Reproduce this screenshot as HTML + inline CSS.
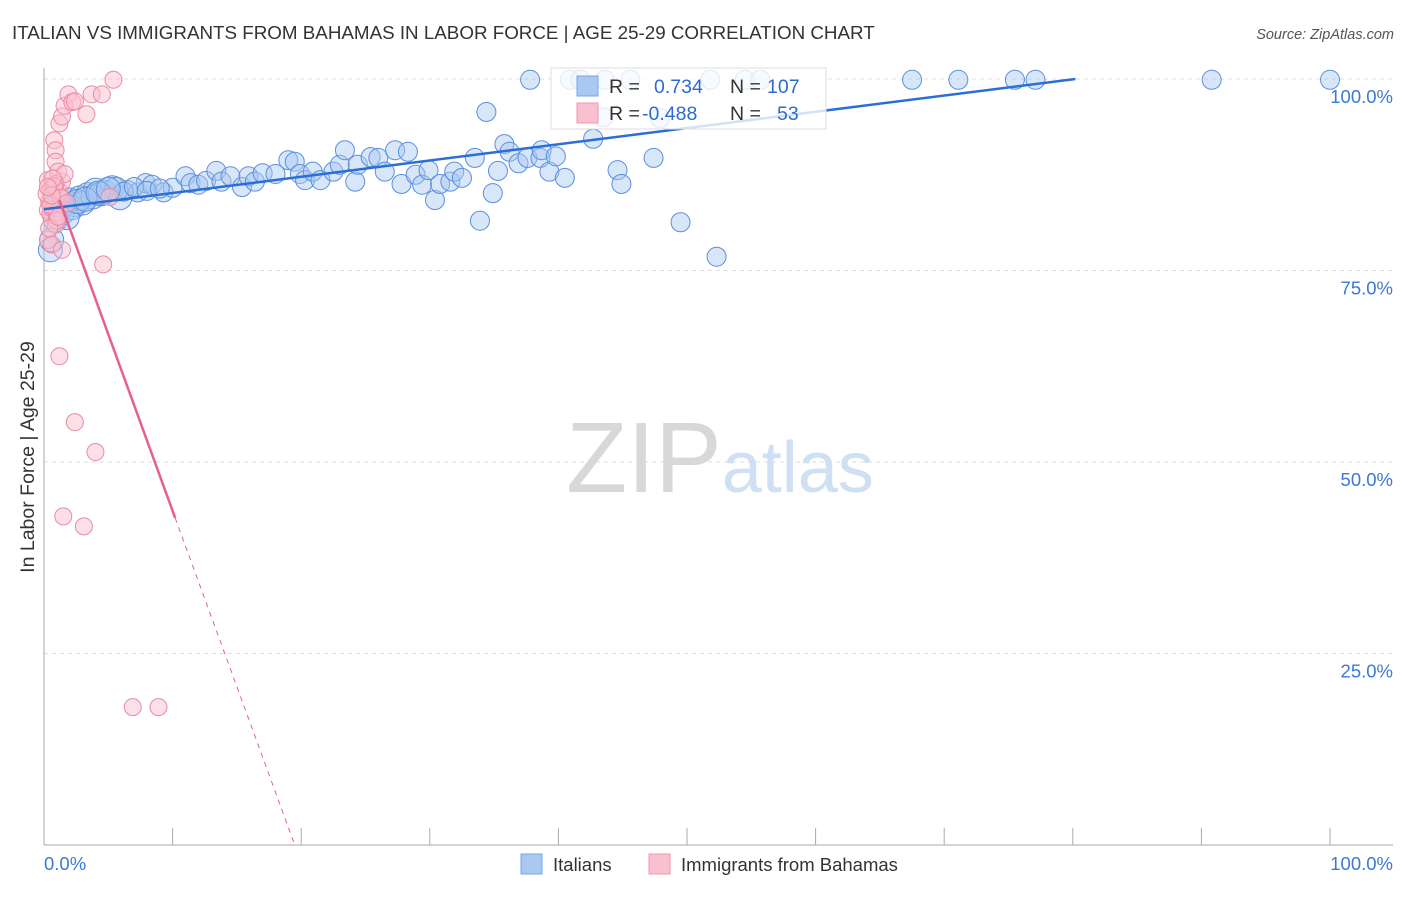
<!DOCTYPE html>
<html><head><meta charset="utf-8"><style>
body{margin:0;background:#fff;font-family:"Liberation Sans",sans-serif}
svg text{font-family:"Liberation Sans",sans-serif}
</style></head><body>
<svg width="1406" height="892" viewBox="0 0 1406 892" xmlns="http://www.w3.org/2000/svg">
<text x="12" y="39" font-size="18.8" fill="#333">ITALIAN VS IMMIGRANTS FROM BAHAMAS IN LABOR FORCE | AGE 25-29 CORRELATION CHART</text>
<text x="1394" y="39" font-size="14.5" fill="#555" text-anchor="end" font-style="italic">Source: ZipAtlas.com</text>
<text x="720" y="492" font-size="100" text-anchor="middle" fill="#ddd" font-family="Liberation Serif"><tspan fill="#d8d8d8">ZIP</tspan><tspan fill="#cfe0f4" font-family="Liberation Sans" font-size="72">atlas</tspan></text>
<g id="grid"></g>
<g id="axes"></g>
<g id="pts"></g>
<g id="lines"></g>
<text transform="translate(34,457) rotate(-90)" font-size="19.5" fill="#333" text-anchor="middle">In Labor Force | Age 25-29</text>
<g>
<rect x="551" y="68" width="275" height="61" fill="#fff" fill-opacity="0.8" stroke="#ddd"/>
<rect x="577" y="76" width="21" height="20" fill="#a9c8f2" stroke="#7aa6e6"/>
<rect x="577" y="103" width="21" height="20" fill="#f9c0cf" stroke="#ef9ab0"/>
<text x="609" y="93" font-size="19.5" fill="#333">R =</text><text x="654" y="93" font-size="19.5" fill="#2d6bd4">0.734</text>
<text x="730" y="93" font-size="19.5" fill="#333">N =</text><text x="767" y="93" font-size="19.5" fill="#2d6bd4">107</text>
<text x="609" y="120" font-size="19.5" fill="#333">R =</text><text x="642" y="120" font-size="19.5" fill="#2d6bd4">-0.488</text>
<text x="730" y="120" font-size="19.5" fill="#333">N =</text><text x="777" y="120" font-size="19.5" fill="#2d6bd4">53</text>
</g>
<g>
<rect x="521" y="854" width="21" height="20" fill="#a9c8f2" stroke="#7aa6e6"/>
<text x="553" y="871" font-size="18.5" fill="#333">Italians</text>
<rect x="649" y="854" width="21" height="20" fill="#f9c0cf" stroke="#ef9ab0"/>
<text x="681" y="871" font-size="18.5" fill="#333">Immigrants from Bahamas</text>
</g>
</svg>
<script>
const yTicks=[25,50,75,100];
const yTickLabels=["25.0%","50.0%","75.0%","100.0%"];
const blueX=[0.5,0.6,0.9,1.2,1.6,2,2.4,2.8,3.4,4,4.7,5.3,5.9,6.5,7.3,7.9,8.4,9.3,10,11,11.4,12,12.6,13.4,13.8,14.5,15.4,15.9,16.4,17,18,19,19.5,19.9,20.3,20.9,21.5,22.5,23,23.4,24.2,24.4,25.4,26,26.5,27.3,27.8,28.3,28.9,29.4,29.9,30.4,30.8,31.6,31.9,32.5,33.5,33.9,34.4,34.9,35.3,35.8,36.2,36.9,37.6,37.8,38.6,38.7,39.3,39.8,40.5,40.9,41.7,43.5,42.7,43.6,44.6,44.9,45.6,47.9,47.4,49.5,51.8,52.3,54.5,55.7,67.5,71.1,75.5,77.1,90.8,100,1.4,2.2,3,3.8,4.4,5.6,6.2,7,8,9,1.8,2.6,3.2,4.2,5];
const blueY=[77.7,79,81.6,82.9,83.6,84.2,83.6,84.5,84.9,85.5,85.2,85.8,84.5,85.5,85.2,86.4,86.2,85.2,85.8,87.3,86.4,86.2,86.7,88,86.6,87.3,85.9,87.3,86.6,87.7,87.6,89.4,89.2,87.6,86.8,87.9,86.8,87.9,88.8,90.7,86.6,88.8,89.8,89.7,87.9,90.7,86.3,90.5,87.5,86.2,88.1,84.2,86.3,86.6,87.9,87.1,89.7,81.5,95.7,85.1,88,91.5,90.5,89,89.7,99.9,89.7,90.7,87.9,89.9,87.1,99.9,99.9,95,92.2,99.9,88.1,86.3,99.9,94.9,89.7,81.3,99.9,76.8,99.9,99.9,99.9,99.9,99.9,99.9,99.9,99.9,82.5,83.2,83.8,84.6,85,85.6,85.3,85.9,85.4,85.7,81.9,84,84.3,85.1,85.6];
const pinkX=[0.3,0.5,0.6,0.3,0.9,0.6,1.1,0.5,0.9,1.2,1.4,0.3,0.6,1.4,0.8,0.9,0.9,1.1,1.2,1.4,1.6,1.9,2.2,2.4,3.3,3.7,4.5,5.4,1.6,0.9,4.6,1.2,2.4,4,1.5,3.1,6.9,8.9,5.1,0.4,0.7,1,0.2,0.8,1.3,0.5,0.7,1.0,0.4,0.6,1.8,0.3,1.1];
const pinkY=[86.8,85.5,84.2,82.9,83.6,85.8,84.9,82.3,81,85.3,86.6,79,78.4,77.7,92,90.7,89.2,87.9,94.2,95.1,96.5,98,97,97.1,95.4,98,98,99.9,87.6,86.3,75.8,63.8,55.2,51.3,42.9,41.6,18,18,84.6,84,83,82.6,85,86,84.5,83.5,87,81.5,80.5,84.8,83.8,85.9,82];
const blueTrend=[0,83.0,80.2,100];
const pinkTrend=[1.2,84.2,10.2,42.7,19.5,0];
const NS="http://www.w3.org/2000/svg";
const X0=44,X1=1330,Y0=845,PY=7.66;
const sx=v=>X0+(X1-X0)*v/100, sy=v=>Y0-v*PY;
function mk(t,a,p){const e=document.createElementNS(NS,t);for(const k in a)e.setAttribute(k,a[k]);p.appendChild(e);return e;}
const grid=document.getElementById('grid'),axes=document.getElementById('axes'),pts=document.getElementById('pts'),lines=document.getElementById('lines');
yTicks.forEach((t,i)=>{
 const l=mk('line',{x1:X0,x2:1393,y1:sy(t),y2:sy(t),stroke:'#ddd','stroke-dasharray':'4,4'},grid);
 
 
 const tx=mk('text',{x:1393,y:sy(t)+24,'font-size':18.5,fill:'#3b78d8','text-anchor':'end'},axes);
 tx.textContent=yTickLabels[i];
 
 
});
const ax=mk('line',{x1:X0,x2:X0,y1:68,y2:Y0,stroke:'#aaa'},axes);


const bx=mk('line',{x1:X0,x2:1393,y1:Y0,y2:Y0,stroke:'#aaa'},axes);


for(let i=1;i<=10;i++){const t=mk('line',{x1:sx(i*10),x2:sx(i*10),y1:828,y2:Y0,stroke:'#aaa'},axes);
 
 }
[["0.0%",X0,'start'],["100.0%",1393,'end']].forEach(([s,x,a])=>{const t=mk('text',{x:x,y:870,'font-size':18.5,fill:'#3b78d8','text-anchor':a},axes);t.textContent=s;
 
 });
blueX.forEach((v,i)=>{const r=v<6?12:9.5;const c=mk('circle',{cx:sx(v),cy:sy(blueY[i]),r:r,fill:'#a9c8f2','fill-opacity':0.45,stroke:'#5b8fdc','stroke-width':1},pts);
 
 });
pinkX.forEach((v,i)=>{const c=mk('circle',{cx:sx(v),cy:sy(pinkY[i]),r:8.5,fill:'#f9c0cf','fill-opacity':0.5,stroke:'#ea8ba5','stroke-width':1},pts);
 
 });
const bl=mk('line',{x1:sx(blueTrend[0]),y1:sy(blueTrend[1]),x2:sx(blueTrend[2]),y2:sy(blueTrend[3]),stroke:'#2a6ed6','stroke-width':2.5},lines);


const pl=mk('line',{x1:sx(pinkTrend[0]),y1:sy(pinkTrend[1]),x2:sx(pinkTrend[2]),y2:sy(pinkTrend[3]),stroke:'#e5608a','stroke-width':2.5},lines);


const pd=mk('line',{x1:sx(pinkTrend[2]),y1:sy(pinkTrend[3]),x2:sx(pinkTrend[4]),y2:sy(pinkTrend[5]),stroke:'#e5608a','stroke-width':1,'stroke-dasharray':'5,5'},lines);


</script>
</body></html>
